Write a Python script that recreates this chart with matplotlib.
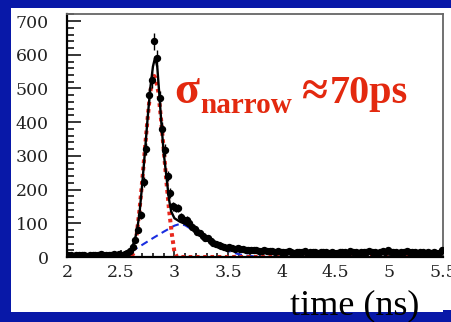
import matplotlib
matplotlib.use('Agg')
import matplotlib.pyplot as plt
from matplotlib.patches import Rectangle
from matplotlib.ticker import MultipleLocator
import numpy as np

# time histogram, 140 bins of 25 ps between 2.0 and 5.5 ns
bin_edges = np.linspace(2.0, 5.5, 141)
counts = [5, 6, 4, 7, 5, 6, 5, 4, 6, 7, 5, 6, 8, 5, 6, 7, 6, 8, 7, 9,
          6, 9, 12, 18, 30, 50, 80, 125, 223, 320, 480, 525, 640, 590, 471, 381, 318, 240, 190, 150,
          145, 145, 120, 110, 110, 100, 90, 82, 75, 70, 63, 57, 55, 48, 42, 40, 36, 32, 30, 28,
          30, 27, 25, 26, 23, 24, 22, 21, 22, 20, 21, 19, 18, 20, 17, 18, 17, 16, 17, 15,
          16, 14, 17, 15, 13, 16, 14, 15, 17, 13, 14, 16, 15, 13, 16, 14, 15, 12, 14, 13,
          13, 15, 14, 16, 13, 17, 14, 15, 13, 16, 14, 15, 17, 14, 16, 13, 15, 18, 14, 22,
          15, 14, 16, 13, 15, 14, 17, 16, 14, 15, 13, 16, 14, 12, 15, 13, 14, 13, 12, 20]

# total fit (solid black)
fit_t = [2.0, 2.5, 2.55, 2.6, 2.625, 2.65, 2.675, 2.7, 2.725, 2.75, 2.775, 2.8, 2.82,
         2.84, 2.86, 2.88, 2.9, 2.925, 2.95, 2.97, 3.0, 3.05, 3.1, 3.2, 3.3, 3.4, 3.5,
         3.6, 3.7, 3.8, 4.0, 4.5, 5.0, 5.5]
fit_total = [6, 7, 11, 25, 45, 75, 130, 215, 310, 410, 500, 565, 592,
             565, 480, 390, 310, 240, 170, 135, 115, 105, 98, 78, 57, 40, 30,
             23, 19, 17, 16, 15, 15, 15]

# narrow component (red dotted)
narrow_t = [2.0, 2.6, 2.625, 2.65, 2.675, 2.7, 2.725, 2.75, 2.775, 2.8, 2.8125, 2.825,
            2.85, 2.875, 2.9, 2.925, 2.95, 2.975, 3.0, 3.025, 5.5]
narrow_vals = [0, 0, 15, 70, 140, 225, 320, 410, 490, 530, 537, 530,
               490, 410, 320, 225, 140, 70, 15, 0, 0]

# broad component (blue dashed)
broad_t = [2.5, 2.6, 2.7, 2.8, 2.9, 3.0, 3.05, 3.1, 3.2, 3.3, 3.4, 3.5, 3.6, 3.7, 3.8, 4.0, 5.5]
broad_vals = [0, 17, 36, 56, 75, 93, 98, 94, 74, 52, 33, 18, 8, 3, 0.5, 0, 0]

x_ticks = [2, 2.5, 3, 3.5, 4, 4.5, 5, 5.5]
x_labels = ['2', '2.5', '3', '3.5', '4', '4.5', '5', '5.5']
y_ticks = [0, 100, 200, 300, 400, 500, 600, 700]

W, H = 451, 322
fig = plt.figure(figsize=(W / 100, H / 100), dpi=100, facecolor='#0818a8')
fig.patches.append(Rectangle((11 / W, 10.3 / H), 440 / W, 303.7 / H, transform=fig.transFigure,
                             facecolor='white', edgecolor='none', zorder=-1))
fig.patches.append(Rectangle((443 / W, 10.3 / H), 8 / W, 2 / H, transform=fig.transFigure,
                             facecolor='#0818a8', edgecolor='none', zorder=-1))

ax = fig.add_axes([67 / W, 65 / H, 376 / W, 243 / H])
ax.set_facecolor('white')

centers = 0.5 * (bin_edges[:-1] + bin_edges[1:])
c = np.array(counts, dtype=float)

ax.plot(broad_t, broad_vals, color='#1a2ee0', lw=1.5, ls=(0, (3.5, 2.2)), zorder=2)
ax.plot(narrow_t, narrow_vals, color='#e8281e', lw=2.9, ls=(0, (0.9, 0.9)), zorder=2)
ax.plot(fit_t, fit_total, color='black', lw=1.7, zorder=3)
ax.errorbar(centers, c, yerr=np.sqrt(c), fmt='o', color='black', ms=4.3, elinewidth=1.0,
            capsize=0, zorder=4)

ax.set_xlim(2, 5.5)
ax.set_ylim(0, 721)
ax.set_xticks(x_ticks)
ax.set_xticklabels(x_labels)
ax.set_yticks(y_ticks)
ax.xaxis.set_minor_locator(MultipleLocator(0.1))
ax.yaxis.set_minor_locator(MultipleLocator(20))

ax.tick_params(axis='y', which='major', direction='in', length=10, width=1.1, pad=13)
ax.tick_params(axis='y', which='minor', direction='in', length=5, width=1.1)
ax.tick_params(axis='x', which='major', direction='in', length=5, width=1.1, pad=5)
ax.tick_params(axis='x', which='minor', direction='in', length=3, width=1.1)
for lab in ax.get_xticklabels() + ax.get_yticklabels():
    lab.set_family('DejaVu Serif')
    lab.set_fontsize(12.5)
    lab.set_color('#222222')

for s in ['left', 'bottom']:
    ax.spines[s].set_color('black')
    ax.spines[s].set_linewidth(1.6)
for s in ['top', 'right']:
    ax.spines[s].set_color('#666666')
    ax.spines[s].set_linewidth(1.3)

fig.text(290 / W, (H - 314) / H, 'time (ns)', family='Liberation Serif', size=26,
         ha='left', va='baseline', color='black')

red = '#e3290f'
fig.text(174 / W, (H - 103) / H, 'σ', family='Liberation Serif', weight='bold', size=33,
         color=red, ha='left', va='baseline')
fig.text(200 / W, (H - 113) / H, 'narrow', family='Liberation Serif', weight='bold', size=21,
         color=red, ha='left', va='baseline')
fig.text(302 / W, (H - 105) / H, '≈', family='Liberation Serif', weight='bold', size=34,
         color=red, ha='left', va='baseline')
fig.text(330 / W, (H - 102.5) / H, '70ps', family='Liberation Serif', weight='bold', size=29,
         color=red, ha='left', va='baseline')

fig.savefig('out.png', dpi=100, facecolor=fig.get_facecolor())
